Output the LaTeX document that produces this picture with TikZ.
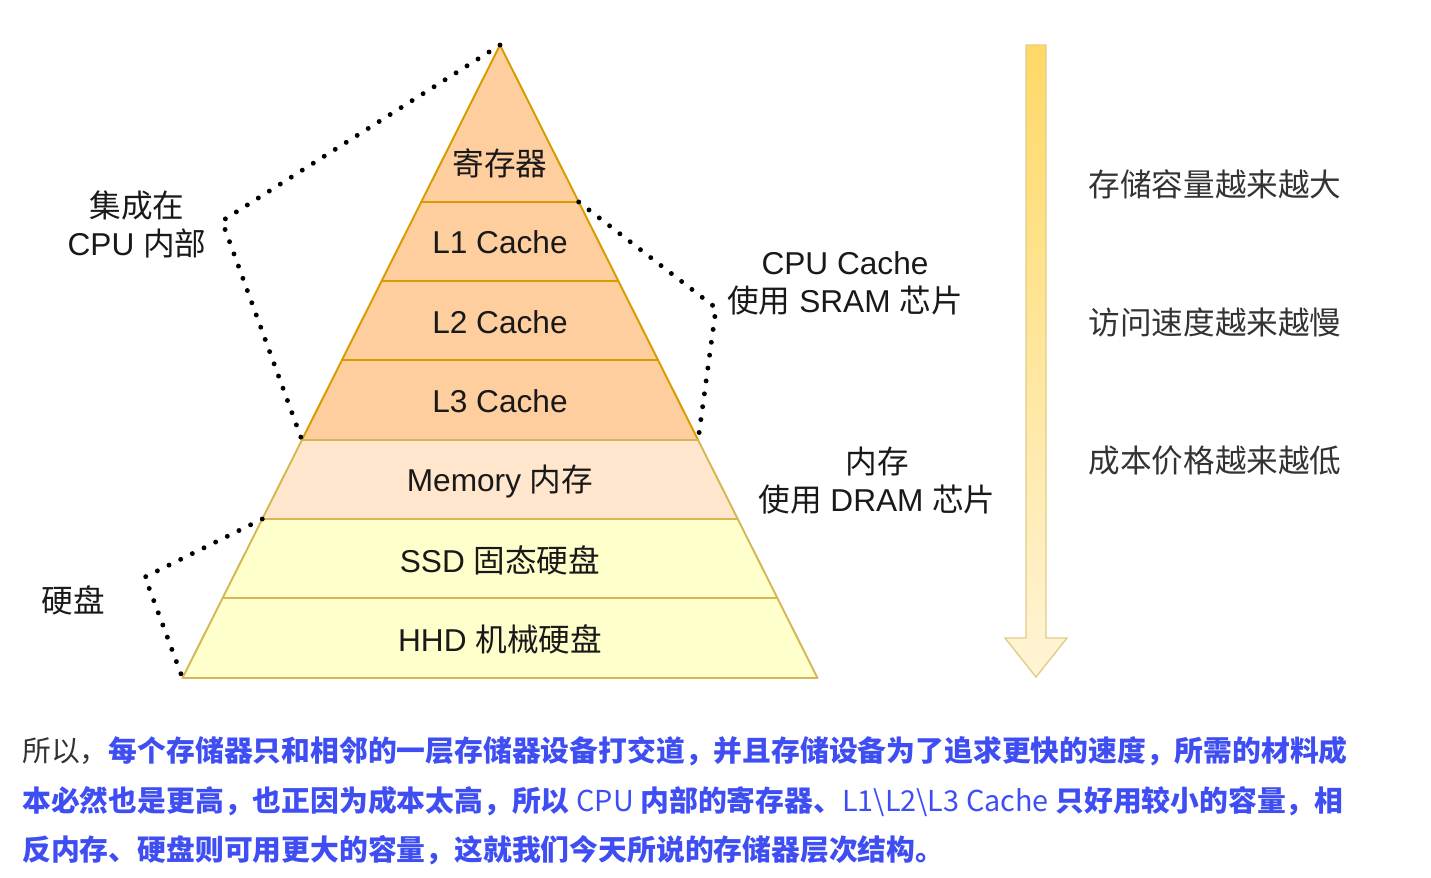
\documentclass[tikz,border=0pt]{standalone}
\usepackage{fontspec}
\setmainfont{Liberation Sans}
\newfontfamily\cjk{Noto Sans CJK SC}
\usepackage{xcolor}
\usetikzlibrary{calc}
\definecolor{cachefill}{HTML}{FFCE9F}
\definecolor{cacheline}{HTML}{D79B00}
\definecolor{memfill}{HTML}{FFE6CC}
\definecolor{diskfill}{HTML}{FFFFCC}
\definecolor{diskline}{HTML}{D6B656}
\definecolor{arrowtop}{HTML}{FFD966}
\definecolor{arrowbot}{HTML}{FFF4D6}
\definecolor{parablue}{HTML}{3F4EF2}
\newcommand{\zh}[1]{{\cjk #1}}

\begin{document}
\begin{tikzpicture}[x=0.02cm, y=-0.02cm,
    layer/.style={line width=1.1pt, line join=round},
    lbl/.style={inner sep=0pt, align=center, text=black!90, font=\fontsize{18}{21.6}\selectfont},
    side/.style={inner sep=0pt, text=black!80, font=\cjk\fontsize{18}{21.6}\selectfont},
    dots/.style={line width=2.8pt, line cap=round, dash pattern=on 0pt off 7.4pt},
    para/.style={inner sep=0pt, anchor=base west, text=parablue, font=\cjk\bfseries\fontsize{16.4}{20}\selectfont}
]
\useasboundingbox (0,0) rectangle (1431,877);

\coordinate (apex) at (500,45);
\coordinate (hbl) at (182.5,678);
\coordinate (hbr) at (817.5,678);

\foreach \ta/\tb/\fc/\dc in {0/0.248/cachefill/cacheline, 0.248/0.3728/cachefill/cacheline,
    0.3728/0.4976/cachefill/cacheline, 0.4976/0.624/cachefill/cacheline,
    0.624/0.7488/memfill/diskline, 0.7488/0.8736/diskfill/diskline, 0.8736/1/diskfill/diskline}
  {\filldraw[layer, fill=\fc, draw=\dc] ($(apex)!\ta!(hbl)$) -- ($(apex)!\tb!(hbl)$) -- ($(apex)!\tb!(hbr)$) -- ($(apex)!\ta!(hbr)$) -- cycle;}

\node[lbl] (reg) at (500,163) {\zh{寄存器}};
\node[lbl] (l1) at (500,242) {L1 Cache};
\node[lbl] (l2) at (500,322) {L2 Cache};
\node[lbl] (l3) at (500,401) {L3 Cache};
\node[lbl] (mem) at (500,481) {Memory \zh{内存}};
\node[lbl] (ssd) at (500,560) {SSD \zh{固态硬盘}};
\node[lbl] (hhd) at (500,639) {HHD \zh{机械硬盘}};

\coordinate (l1tr) at ($(apex)!0.248!(hbr)$);
\coordinate (l3bl) at ($(apex)!0.624!(hbl)$);
\coordinate (l3br) at ($(apex)!0.624!(hbr)$);
\coordinate (ssdtl) at ($(apex)!0.7488!(hbl)$);
\coordinate (cpubend) at (222,221);
\coordinate (srambend) at (716,308);
\coordinate (diskbend) at (145,577);
\draw[dots] (apex) -- (cpubend) -- (l3bl);
\draw[dots] (l1tr) -- (srambend) -- (l3br);
\draw[dots] (ssdtl) -- (diskbend) -- (hbl);

\node[lbl] (cpuin) at (137,224) {\zh{集成在}\\CPU \zh{内部}};
\node[lbl] (disk) at (73,600) {\zh{硬盘}};
\node[lbl] (sram) at (845,283) {CPU Cache\\\zh{使用} SRAM \zh{芯片}};
\node[lbl] (dram) at (877,481) {\zh{内存}\\\zh{使用} DRAM \zh{芯片}};

\shade[top color=arrowtop, bottom color=arrowbot, draw=diskline!70, line width=0.8pt]
  (1026,45) -- (1046,45) -- (1046,638) -- (1067,638) -- (1036,677) -- (1005,638) -- (1026,638) -- cycle;

\node[side] (cap) at (1215,184) {存储容量越来越大};
\node[side] (speed) at (1215,322) {访问速度越来越慢};
\node[side] (cost) at (1215,461) {成本价格越来越低};

\node[para] (para1) at (22,761) {{\mdseries\color{black!80}所以，}每个存储器只和相邻的一层存储器设备打交道，并且存储设备为了追求更快的速度，所需的材料成};
\node[para] (para2) at (22,811) {本必然也是更高，也正因为成本太高，所以 {\mdseries CPU} 内部的寄存器、{\mdseries L1\textbackslash L2\textbackslash L3 Cache} 只好用较小的容量，相};
\node[para] (para3) at (22,860) {反内存、硬盘则可用更大的容量，这就我们今天所说的存储器层次结构。};
\end{tikzpicture}
\end{document}
